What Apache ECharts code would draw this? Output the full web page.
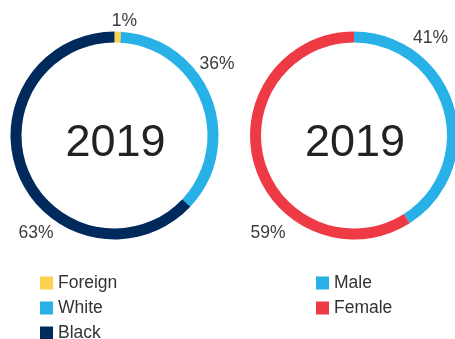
<!DOCTYPE html>
<html><head><meta charset="utf-8">
<script src="https://cdn.jsdelivr.net/npm/echarts@6/dist/echarts.min.js"></script>
<style>html,body{margin:0;padding:0;background:#fff}#c{width:455px;height:339px}</style>
</head><body><div id="c"></div>
<script>
const raceNames = ['Foreign', 'White', 'Black'];
const raceValues = [1, 36, 63];
const sexNames = ['Male', 'Female'];
const sexValues = [41, 59];
const yearLabel = '2019';

const colors = {Foreign:'#fdd14f', White:'#27b1e6', Black:'#002a5c', Male:'#27b1e6', Female:'#ee3a44'};
const raceLabelPos = [[124.5, 21], [217, 64.5], [36, 233]];
const sexLabelPos = [[430.5, 38.5], [268, 233.5]];

const chart = echarts.init(document.getElementById('c'), null, {renderer:'canvas'});
const font = 'Liberation Sans, Arial, Helvetica, sans-serif';

function mk(names, values, center, pos) {
  return {
    type:'pie', radius:[93, 104], center:center, startAngle:90, clockwise:true,
    silent:true, avoidLabelOverlap:false,
    data: names.map((n,i)=>({name:n, value:values[i], itemStyle:{color:colors[n]}})),
    label:{show:true, position:'outside', formatter:'{c}%', fontFamily:font, fontSize:17.5, color:'#3c3c3c'},
    labelLine:{show:false},
    labelLayout:function(p){ const q = pos[p.dataIndex]; return {x:q[0], y:q[1], align:'center', verticalAlign:'middle'}; },
    emphasis:{disabled:true}
  };
}

const legendBase = {orient:'vertical', top:274, height:70, padding:0, icon:'rect', itemWidth:13, itemHeight:13, itemGap:7,
  selectedMode:false, textStyle:{fontFamily:font, fontSize:17.5, color:'#333'}};

chart.setOption({
  animation:false,
  legend:[
    Object.assign({}, legendBase, {data:raceNames, left:40}),
    Object.assign({}, legendBase, {data:sexNames, left:316})
  ],
  graphic:[
    {type:'text', x:115.5, y:143.5, style:{text:yearLabel, font:'45px '+font, fill:'#222', textAlign:'center', textVerticalAlign:'middle'}},
    {type:'text', x:355, y:143.5, style:{text:yearLabel, font:'45px '+font, fill:'#222', textAlign:'center', textVerticalAlign:'middle'}}
  ],
  series:[
    mk(raceNames, raceValues, [114.5, 135.5], raceLabelPos),
    mk(sexNames, sexValues, [354, 135.5], sexLabelPos)
  ]
});
</script></body></html>
